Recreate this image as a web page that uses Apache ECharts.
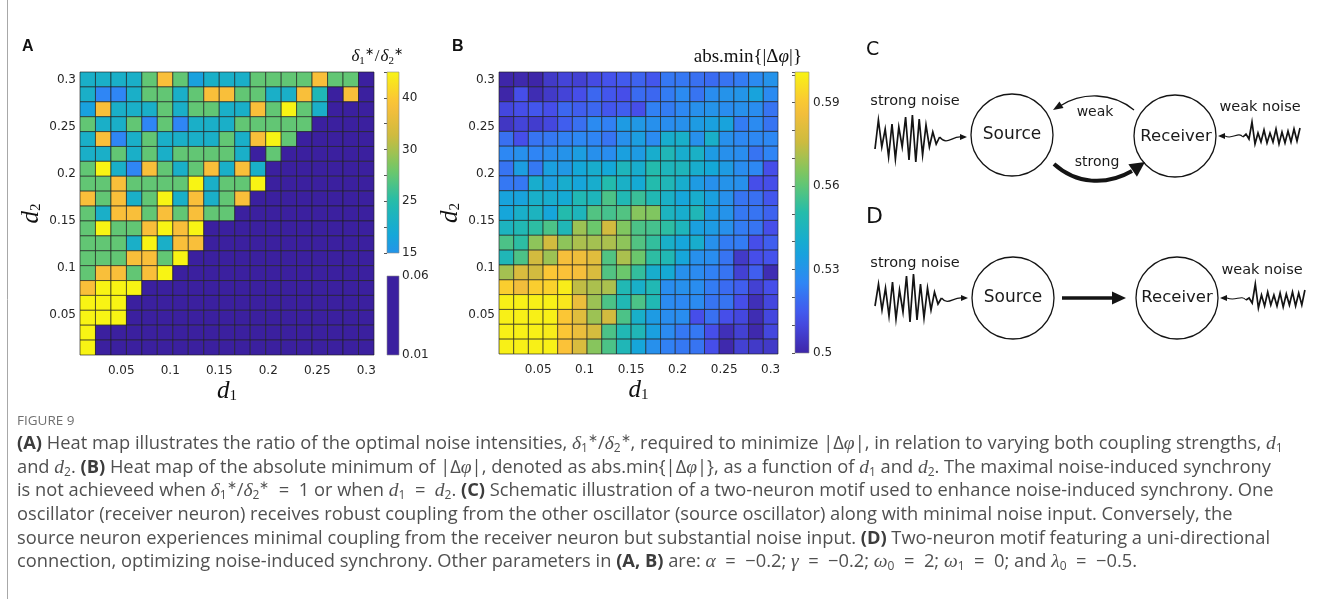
<!DOCTYPE html>
<html>
<head>
<meta charset="utf-8">
<script src="https://cdn.jsdelivr.net/npm/echarts@6/dist/echarts.min.js"></script>
<style>
  html, body { margin: 0; padding: 0; background: #fff; }
  #chart { width: 1328px; height: 599px; }
</style>
</head>
<body>
<div id="chart"></div>
<script>
// grid of coupling strengths (d1 and d2 use the same 19 values)
const dGrid = [0.0158, 0.0316, 0.0474, 0.0632, 0.0789, 0.0947, 0.1105, 0.1263, 0.1421, 0.1579,
  0.1737, 0.1895, 0.2053, 0.2211, 0.2368, 0.2526, 0.2684, 0.2842, 0.3];
const axisTicks = [0.05, 0.1, 0.15, 0.2, 0.25, 0.3];

// panel A: delta1*/delta2*, rows from d2 = 0.3 (top) down to the smallest d2
const ratioRows = [
  [21, 21, 21, 21, 27.5, 38.5, 27.5, 17.5, 21, 21, 21, 27.5, 27.5, 27.5, 27.5, 38.5, 27.5, 27.5, 0.03],
  [21, 12.5, 12.5, 21, 27.5, 27.5, 21, 27.5, 38.5, 38.5, 27.5, 27.5, 21, 21, 38.5, 23.5, 0.03, 38.5, 0.03],
  [17.5, 38.5, 21, 21, 21, 27.5, 21, 27.5, 27.5, 21, 21, 38.5, 27.5, 45, 27.5, 21, 0.03, 0.03, 0.03],
  [27.5, 21, 21, 27.5, 12.5, 27.5, 12.5, 21, 21, 21, 27.5, 27.5, 27.5, 27.5, 27.5, 0.03, 0.03, 0.03, 0.03],
  [21, 38.5, 12.5, 21, 27.5, 21, 21, 21, 21, 27.5, 21, 38.5, 45, 27.5, 0.03, 0.03, 0.03, 0.03, 0.03],
  [21, 21, 27.5, 21, 27.5, 21, 27.5, 27.5, 27.5, 27.5, 21, 0.03, 27.5, 0.03, 0.03, 0.03, 0.03, 0.03, 0.03],
  [27.5, 45, 21, 12.5, 38.5, 27.5, 21, 27.5, 38.5, 21, 38.5, 21, 0.03, 0.03, 0.03, 0.03, 0.03, 0.03, 0.03],
  [27.5, 27.5, 38.5, 27.5, 27.5, 27.5, 27.5, 45, 21, 27.5, 27.5, 45, 0.03, 0.03, 0.03, 0.03, 0.03, 0.03, 0.03],
  [38.5, 27.5, 38.5, 21, 27.5, 45, 21, 38.5, 21, 27.5, 38.5, 0.03, 0.03, 0.03, 0.03, 0.03, 0.03, 0.03, 0.03],
  [27.5, 21, 38.5, 38.5, 27.5, 38.5, 27.5, 38.5, 27.5, 27.5, 0.03, 0.03, 0.03, 0.03, 0.03, 0.03, 0.03, 0.03, 0.03],
  [27.5, 45, 27.5, 27.5, 38.5, 45, 38.5, 45, 0.03, 0.03, 0.03, 0.03, 0.03, 0.03, 0.03, 0.03, 0.03, 0.03, 0.03],
  [27.5, 27.5, 27.5, 21, 45, 21, 38.5, 38.5, 0.03, 0.03, 0.03, 0.03, 0.03, 0.03, 0.03, 0.03, 0.03, 0.03, 0.03],
  [27.5, 27.5, 27.5, 38.5, 38.5, 27.5, 45, 0.03, 0.03, 0.03, 0.03, 0.03, 0.03, 0.03, 0.03, 0.03, 0.03, 0.03, 0.03],
  [27.5, 38.5, 38.5, 27.5, 38.5, 45, 0.03, 0.03, 0.03, 0.03, 0.03, 0.03, 0.03, 0.03, 0.03, 0.03, 0.03, 0.03, 0.03],
  [38.5, 45, 45, 45, 0.03, 0.03, 0.03, 0.03, 0.03, 0.03, 0.03, 0.03, 0.03, 0.03, 0.03, 0.03, 0.03, 0.03, 0.03],
  [45, 45, 45, 0.03, 0.03, 0.03, 0.03, 0.03, 0.03, 0.03, 0.03, 0.03, 0.03, 0.03, 0.03, 0.03, 0.03, 0.03, 0.03],
  [45, 45, 45, 0.03, 0.03, 0.03, 0.03, 0.03, 0.03, 0.03, 0.03, 0.03, 0.03, 0.03, 0.03, 0.03, 0.03, 0.03, 0.03],
  [45, 0.03, 0.03, 0.03, 0.03, 0.03, 0.03, 0.03, 0.03, 0.03, 0.03, 0.03, 0.03, 0.03, 0.03, 0.03, 0.03, 0.03, 0.03],
  [45, 0.03, 0.03, 0.03, 0.03, 0.03, 0.03, 0.03, 0.03, 0.03, 0.03, 0.03, 0.03, 0.03, 0.03, 0.03, 0.03, 0.03, 0.03]
];
// colorbar of A: tick labels sit at evenly spaced positions
const ratioTickValues = [15, 25, 30, 40];
const ratioTickPos = [0, 2, 4, 6];
const lowTicks = [0.01, 0.06];

// panel B: abs.min{|dphi|}, rows from d2 = 0.3 (top) down
const phaseRows = [
  [0.500, 0.501, 0.500, 0.506, 0.509, 0.508, 0.511, 0.513, 0.515, 0.517, 0.514, 0.522, 0.522, 0.520, 0.519, 0.521, 0.523, 0.527, 0.530],
  [0.500, 0.512, 0.502, 0.506, 0.509, 0.512, 0.518, 0.514, 0.512, 0.519, 0.518, 0.523, 0.527, 0.521, 0.528, 0.530, 0.531, 0.536, 0.527],
  [0.510, 0.512, 0.514, 0.512, 0.518, 0.516, 0.518, 0.514, 0.516, 0.512, 0.524, 0.523, 0.526, 0.529, 0.530, 0.528, 0.529, 0.528, 0.521],
  [0.505, 0.509, 0.507, 0.510, 0.516, 0.520, 0.527, 0.524, 0.533, 0.532, 0.529, 0.528, 0.529, 0.533, 0.535, 0.536, 0.523, 0.527, 0.521],
  [0.520, 0.512, 0.521, 0.522, 0.524, 0.526, 0.525, 0.521, 0.529, 0.534, 0.527, 0.541, 0.542, 0.529, 0.542, 0.529, 0.526, 0.526, 0.526],
  [0.526, 0.529, 0.525, 0.528, 0.530, 0.534, 0.529, 0.528, 0.535, 0.533, 0.541, 0.547, 0.541, 0.543, 0.533, 0.529, 0.528, 0.521, 0.525],
  [0.521, 0.534, 0.522, 0.535, 0.532, 0.538, 0.541, 0.538, 0.546, 0.541, 0.550, 0.546, 0.546, 0.541, 0.538, 0.533, 0.528, 0.526, 0.512],
  [0.522, 0.522, 0.541, 0.534, 0.541, 0.537, 0.541, 0.550, 0.543, 0.539, 0.550, 0.547, 0.541, 0.533, 0.529, 0.530, 0.529, 0.512, 0.512],
  [0.536, 0.536, 0.542, 0.541, 0.539, 0.548, 0.546, 0.557, 0.548, 0.554, 0.548, 0.543, 0.537, 0.541, 0.535, 0.529, 0.521, 0.520, 0.514],
  [0.537, 0.542, 0.545, 0.537, 0.550, 0.546, 0.558, 0.556, 0.558, 0.566, 0.565, 0.545, 0.541, 0.547, 0.533, 0.530, 0.522, 0.521, 0.517],
  [0.545, 0.548, 0.552, 0.557, 0.547, 0.569, 0.562, 0.577, 0.565, 0.557, 0.556, 0.552, 0.546, 0.535, 0.533, 0.529, 0.523, 0.521, 0.512],
  [0.557, 0.552, 0.567, 0.577, 0.567, 0.571, 0.570, 0.571, 0.567, 0.558, 0.553, 0.542, 0.537, 0.541, 0.529, 0.523, 0.523, 0.512, 0.516],
  [0.547, 0.557, 0.577, 0.569, 0.587, 0.585, 0.581, 0.558, 0.571, 0.562, 0.552, 0.548, 0.537, 0.529, 0.528, 0.521, 0.506, 0.512, 0.513],
  [0.570, 0.579, 0.577, 0.590, 0.589, 0.587, 0.579, 0.558, 0.562, 0.553, 0.541, 0.539, 0.529, 0.527, 0.524, 0.521, 0.508, 0.516, 0.502],
  [0.592, 0.586, 0.592, 0.593, 0.599, 0.574, 0.571, 0.571, 0.548, 0.542, 0.548, 0.528, 0.529, 0.528, 0.523, 0.519, 0.516, 0.508, 0.512],
  [0.600, 0.600, 0.600, 0.600, 0.598, 0.584, 0.569, 0.557, 0.548, 0.557, 0.548, 0.527, 0.526, 0.527, 0.521, 0.521, 0.512, 0.503, 0.510],
  [0.600, 0.600, 0.600, 0.600, 0.590, 0.581, 0.569, 0.577, 0.557, 0.542, 0.533, 0.528, 0.528, 0.512, 0.520, 0.512, 0.510, 0.502, 0.510],
  [0.600, 0.600, 0.600, 0.599, 0.590, 0.584, 0.578, 0.557, 0.548, 0.547, 0.535, 0.527, 0.522, 0.522, 0.512, 0.503, 0.508, 0.501, 0.510],
  [0.600, 0.600, 0.600, 0.600, 0.589, 0.579, 0.566, 0.557, 0.547, 0.537, 0.529, 0.524, 0.522, 0.521, 0.512, 0.501, 0.508, 0.506, 0.506]
];
const phaseMin = 0.5;
const phaseMax = 0.601;
const phaseTicks = [0.5, 0.53, 0.56, 0.59];

// schematic noise traces (pixel offsets)
const strongNoiseC = [12, -17, 10, -8, 20, -13, 22, -10, 10, -20, 23, -22, 25, -18, 18, -12, 10, -5, 7, 0];
const strongNoiseD = [8, -14, 12, -10, 18, -16, 21, -8, 14, -22, 24, -24, 22, -14, 20, -10, 12, -6, 6, 0];
const weakNoiseC = [0, -3, 2, -15, 7, -4, 5, -7, 6, -4, 5, -8, 7, -5, 6, -6, 5, -8, 4, -9];
const weakNoiseD = [0, -2, 3, -16, 8, -5, 6, -8, 5, -5, 6, -7, 7, -6, 5, -8, 6, -7, 5, -10];

const parula = ['#3e26a8', '#4650ec', '#2f86f5', '#14a8d8', '#24bcab', '#72c866', '#cdbb3f', '#fbbf3a', '#f8f414'];
const lowColor = '#3b209f';
const tickFont = 'DejaVu Sans';
const capFont = 'Open Sans';
const capSize = 18.3;
const capColor = '#505050';

function ratioToPos(v) {
  const t = ratioTickValues, p = ratioTickPos;
  let i = 0;
  while (i < t.length - 2 && v > t[i + 1]) i++;
  return p[i] + (v - t[i]) * (p[i + 1] - p[i]) / (t[i + 1] - t[i]);
}

const ratioCells = [];
const lowCells = [];
ratioRows.forEach((row, r) => {
  row.forEach((v, c) => {
    const x = dGrid[c], y = dGrid[dGrid.length - 1 - r];
    if (v >= 1) ratioCells.push([x, y, v, ratioToPos(v)]);
    else lowCells.push([x, y, v]);
  });
});
const phaseCells = [];
phaseRows.forEach((row, r) => {
  row.forEach((v, c) => phaseCells.push([dGrid[c], dGrid[dGrid.length - 1 - r], v]));
});

const cellStep = dGrid[1] - dGrid[0];
const dMin = dGrid[0] - cellStep / 2;
const dMax = dGrid[dGrid.length - 1] + cellStep / 2;

function cellItem(params, api) {
  const c = api.coord([api.value(0), api.value(1)]);
  const s = api.size([cellStep, cellStep]);
  return {
    type: 'rect',
    shape: { x: c[0] - s[0] / 2, y: c[1] - s[1] / 2, width: s[0], height: s[1] },
    style: { fill: api.visual('color'), stroke: 'rgba(30,30,30,0.8)', lineWidth: 0.8 }
  };
}

function gradientStops(p0, p1) {
  const out = [];
  for (let i = 0; i <= 20; i++) {
    out.push({ offset: i / 20, color: echarts.color.lerp(p0 + (p1 - p0) * i / 20, parula) });
  }
  return out;
}

function barItem(stops) {
  return function (params, api) {
    const a = api.coord([api.value(0), api.value(1)]);
    const b = api.coord([api.value(2), api.value(3)]);
    return {
      type: 'rect',
      shape: { x: a[0], y: b[1], width: b[0] - a[0], height: a[1] - b[1] },
      style: { fill: new echarts.graphic.LinearGradient(0, 1, 0, 0, stops), stroke: '#8a8a8a', lineWidth: 0.6 }
    };
  };
}

const tickLabel = { fontFamily: tickFont, fontSize: 12, color: '#262626' };
const nameRich = {
  d: { fontFamily: 'Liberation Serif', fontStyle: 'italic', fontSize: 25, lineHeight: 26, color: '#111' },
  s: { fontFamily: 'Liberation Serif', fontSize: 15, lineHeight: 13, verticalAlign: 'bottom', color: '#111' }
};

function mainX(grid, name) {
  return {
    type: 'value', gridIndex: grid, min: dMin, max: dMax,
    splitLine: { show: false }, axisLine: { show: false }, axisTick: { show: false },
    axisLabel: Object.assign({ customValues: axisTicks, margin: 10, formatter: v => String(+v.toFixed(2)) }, tickLabel),
    name: name, nameLocation: 'middle', nameGap: 23, nameTextStyle: { rich: nameRich }
  };
}
function mainY(grid, name) {
  return {
    type: 'value', gridIndex: grid, min: dMin, max: dMax,
    splitLine: { show: false }, axisLine: { show: false }, axisTick: { show: false },
    axisLabel: Object.assign({ customValues: axisTicks, margin: 4, formatter: v => String(+v.toFixed(2)) }, tickLabel),
    name: name, nameLocation: 'middle', nameGap: 36, nameTextStyle: { rich: nameRich }
  };
}
function barX(grid) {
  return { type: 'value', gridIndex: grid, min: 0, max: 1, show: false };
}

const capRich = {
  b: { fontFamily: capFont, fontWeight: 'bold', fontSize: capSize, lineHeight: 22, fill: '#3c3c3c' },
  m: { fontFamily: 'Liberation Serif', fontStyle: 'italic', fontSize: 19.5, lineHeight: 22, fill: capColor },
  s: { fontFamily: capFont, fontSize: 12, lineHeight: 11, verticalAlign: 'bottom', fill: capColor },
  p: { fontFamily: capFont, fontSize: 12, lineHeight: 11, verticalAlign: 'top', fill: capColor }
};
const capLines = [
  '{b|(A)} Heat map illustrates the ratio of the optimal noise intensities, {m|δ}{s|1}{p|∗}/{m|δ}{s|2}{p|∗}, required to minimize |Δ{m|φ}|, in relation to varying both coupling strengths, {m|d}{s|1}',
  'and {m|d}{s|2}. {b|(B)} Heat map of the absolute minimum of |Δ{m|φ}|, denoted as abs.min{|Δ{m|φ}|}, as a function of {m|d}{s|1} and {m|d}{s|2}. The maximal noise-induced synchrony',
  'is not achieveed when {m|δ}{s|1}{p|∗}/{m|δ}{s|2}{p|∗}  =  1 or when {m|d}{s|1}  =  {m|d}{s|2}. {b|(C)} Schematic illustration of a two-neuron motif used to enhance noise-induced synchrony. One',
  'oscillator (receiver neuron) receives robust coupling from the other oscillator (source oscillator) along with minimal noise input. Conversely, the',
  'source neuron experiences minimal coupling from the receiver neuron but substantial noise input. {b|(D)} Two-neuron motif featuring a uni-directional',
  'connection, optimizing noise-induced synchrony. Other parameters in {b|(A, B)} are: {m|α}  =  −0.2; {m|γ}  =  −0.2; {m|ω}{s|0}  =  2; {m|ω}{s|1}  =  0; and {m|λ}{s|0}  =  −0.5.'
];
const capY = [444, 468, 491, 515, 539, 562];

// ---- schematic helpers ----
const ink = '#141414';
function wave(amps, x0, y0, dx) {
  return { type: 'polyline', shape: { points: amps.map((a, i) => [x0 + i * dx, y0 + a]) },
    style: { stroke: ink, lineWidth: 1.7, fill: null } };
}
function head(x, y, ang, len, half) {
  const ca = Math.cos(ang), sa = Math.sin(ang);
  const bx = x - ca * len, by = y - sa * len;
  return { type: 'polygon', shape: { points: [[x, y], [bx - sa * half, by + ca * half], [bx + sa * half, by - ca * half]] },
    style: { fill: ink } };
}
function circle(cx, cy) {
  return { type: 'circle', shape: { cx: cx, cy: cy, r: 41 }, style: { stroke: ink, lineWidth: 1.3, fill: null } };
}
function label(x, y, text, size, extra) {
  return { type: 'text', x: x, y: y,
    style: Object.assign({ text: text, fontFamily: 'DejaVu Sans', fontSize: size, fill: '#1a1a1a', align: 'center', verticalAlign: 'middle' }, extra || {}) };
}
function curve(x1, y1, c1x, c1y, c2x, c2y, x2, y2, w) {
  return { type: 'bezierCurve', shape: { x1: x1, y1: y1, cpx1: c1x, cpy1: c1y, cpx2: c2x, cpy2: c2y, x2: x2, y2: y2 },
    style: { stroke: ink, lineWidth: w, fill: null } };
}

const graphics = [
  // frame
  { type: 'line', shape: { x1: 7.5, y1: 0, x2: 7.5, y2: 599 }, style: { stroke: '#a8a8a8', lineWidth: 1 } },
  // panel letters and colorbar titles
  { type: 'text', x: 22, y: 47, style: { text: 'A', fontFamily: 'Liberation Sans', fontWeight: 'bold', fontSize: 16, fill: '#111', verticalAlign: 'middle' } },
  { type: 'text', x: 452, y: 47, style: { text: 'B', fontFamily: 'Liberation Sans', fontWeight: 'bold', fontSize: 16, fill: '#111', verticalAlign: 'middle' } },
  { type: 'text', x: 403, y: 57, style: {
      text: '{m|δ}{s|1}{p|∗}{n|/}{m|δ}{s|2}{p|∗}', align: 'right', verticalAlign: 'middle',
      rich: {
        m: { fontFamily: 'Liberation Serif', fontStyle: 'italic', fontSize: 17, lineHeight: 20, fill: '#111' },
        n: { fontFamily: 'Liberation Serif', fontSize: 17, lineHeight: 20, fill: '#111', padding: [0, 1, 0, 1] },
        s: { fontFamily: 'Liberation Serif', fontSize: 11, lineHeight: 10, verticalAlign: 'bottom', fill: '#111' },
        p: { fontFamily: 'Liberation Serif', fontSize: 11, lineHeight: 10, verticalAlign: 'top', fill: '#111' }
      } } },
  { type: 'text', x: 802, y: 57, style: {
      text: 'abs.min{|Δ{m|φ}|}', align: 'right', verticalAlign: 'middle',
      fontFamily: 'Liberation Serif', fontSize: 19, fill: '#111',
      rich: { m: { fontFamily: 'Liberation Serif', fontStyle: 'italic', fontSize: 19, fill: '#111' } } } },
  { type: 'text', x: 866, y: 50, style: { text: 'C', fontFamily: 'DejaVu Sans', fontSize: 19, fill: '#111', verticalAlign: 'middle' } },
  { type: 'text', x: 866, y: 217, style: { text: 'D', fontFamily: 'DejaVu Sans', fontSize: 22, fill: '#111', verticalAlign: 'middle' } },

  // panel C
  label(915, 101, 'strong noise', 14.5),
  wave(strongNoiseC, 875, 137, 3.4),
  curve(939.6, 137, 947, 146, 952, 136, 961, 137, 1.3),
  head(967, 137, 0, 7, 3),
  circle(1012, 135),
  label(1012, 135, 'Source', 17),
  circle(1175, 136),
  label(1176, 137, 'Receiver', 16.5),
  label(1260, 107, 'weak noise', 14.5),
  wave(weakNoiseC, 1243, 137, 3),
  curve(1243, 137, 1238, 131, 1233, 140, 1225, 136, 1.1),
  head(1218, 136, Math.PI, 7, 3),
  curve(1134, 110, 1112, 92, 1082, 92, 1060, 106, 1.3),
  head(1053, 110, Math.atan2(5, -8), 10, 3.8),
  label(1095, 112, 'weak', 14),
  curve(1054, 164, 1076, 184, 1106, 186, 1132, 171, 4),
  head(1145, 162, Math.atan2(-9, 13), 15, 7.5),
  label(1097, 162, 'strong', 14),

  // panel D
  label(915, 263, 'strong noise', 14.5),
  wave(strongNoiseD, 875, 298, 3.5),
  curve(941.5, 298, 948, 306, 953, 297, 962, 298, 1.3),
  head(968, 298, 0, 7, 3),
  circle(1013, 298),
  label(1013, 298, 'Source', 17),
  { type: 'line', shape: { x1: 1062, y1: 298, x2: 1114, y2: 298 }, style: { stroke: ink, lineWidth: 3.6 } },
  head(1126, 298, 0, 14, 6.5),
  circle(1177, 298),
  label(1177, 298, 'Receiver', 16.5),
  label(1262, 270, 'weak noise', 14.5),
  wave(weakNoiseD, 1246, 300, 3.1),
  curve(1246, 300, 1241, 294, 1236, 302, 1227, 298, 1.1),
  head(1220, 298, Math.PI, 7, 3),

  // caption
  { type: 'text', x: 17, y: 421, style: { text: 'FIGURE 9', fontFamily: capFont, fontSize: 13.5, fill: '#707070', verticalAlign: 'middle' } }
];
capLines.forEach((t, i) => {
  graphics.push({ type: 'text', x: 17, y: capY[i], style: {
    text: t, fontFamily: capFont, fontSize: capSize, lineHeight: 22, fill: capColor, verticalAlign: 'middle', rich: capRich } });
});

const chart = echarts.init(document.getElementById('chart'), null, { renderer: 'canvas' });
chart.setOption({
  backgroundColor: '#fff',
  animation: false,
  grid: [
    { left: 80, top: 72, width: 294, height: 283 },
    { left: 387, top: 72, width: 12, height: 181 },
    { left: 387, top: 276, width: 12, height: 79 },
    { left: 499, top: 72, width: 279, height: 282 },
    { left: 795, top: 72, width: 14, height: 281 }
  ],
  xAxis: [mainX(0, '{d|d}{s|1}'), barX(1), barX(2), mainX(3, '{d|d}{s|1}'), barX(4)],
  yAxis: [
    mainY(0, '{d|d}{s|2}'),
    { type: 'value', gridIndex: 1, min: 0, max: 7, interval: 1, position: 'right',
      splitLine: { show: false }, axisLine: { show: false },
      axisTick: { show: true, inside: true, length: 3, lineStyle: { color: '#555' } },
      axisLabel: Object.assign({ margin: 3, formatter: v => {
        const k = ratioTickPos.indexOf(v);
        return k >= 0 ? String(ratioTickValues[k]) : '';
      } }, tickLabel) },
    { type: 'value', gridIndex: 2, min: 0.01, max: 0.06, position: 'right',
      splitLine: { show: false }, axisLine: { show: false },
      axisTick: { show: false },
      axisLabel: Object.assign({ margin: 3, customValues: lowTicks, formatter: v => String(+v.toFixed(2)) }, tickLabel) },
    mainY(3, '{d|d}{s|2}'),
    { type: 'value', gridIndex: 4, min: phaseMin, max: phaseMax, interval: 0.01, position: 'right',
      splitLine: { show: false }, axisLine: { show: false },
      axisTick: { show: true, inside: true, length: 3, lineStyle: { color: '#555' } },
      axisLabel: Object.assign({ margin: 4, formatter: v => {
        const t = phaseTicks.find(x => Math.abs(x - v) < 1e-6);
        return t === undefined ? '' : String(t);
      } }, tickLabel) }
  ],
  visualMap: [
    { type: 'continuous', show: false, seriesIndex: 0, dimension: 3, min: -3, max: 7, inRange: { color: parula } },
    { type: 'continuous', show: false, seriesIndex: 1, dimension: 2, min: 0.01, max: 0.06, inRange: { color: [lowColor, lowColor] } },
    { type: 'continuous', show: false, seriesIndex: 2, dimension: 2, min: phaseMin, max: phaseMax, inRange: { color: parula } }
  ],
  series: [
    { type: 'custom', name: 'ratio', xAxisIndex: 0, yAxisIndex: 0, renderItem: cellItem, data: ratioCells, encode: { x: 0, y: 1 } },
    { type: 'custom', name: 'low', xAxisIndex: 0, yAxisIndex: 0, renderItem: cellItem, data: lowCells, encode: { x: 0, y: 1 } },
    { type: 'custom', name: 'phase', xAxisIndex: 3, yAxisIndex: 3, renderItem: cellItem, data: phaseCells, encode: { x: 0, y: 1 } },
    { type: 'custom', xAxisIndex: 1, yAxisIndex: 1, renderItem: barItem(gradientStops(0.3, 1)), data: [[0, 0, 1, 7]], encode: { x: [0, 2], y: [1, 3] }, z: 1 },
    { type: 'custom', xAxisIndex: 2, yAxisIndex: 2, renderItem: barItem([{ offset: 0, color: lowColor }, { offset: 1, color: lowColor }]), data: [[0, 0.01, 1, 0.06]], encode: { x: [0, 2], y: [1, 3] }, z: 1 },
    { type: 'custom', xAxisIndex: 4, yAxisIndex: 4, renderItem: barItem(gradientStops(0, 1)), data: [[0, phaseMin, 1, phaseMax]], encode: { x: [0, 2], y: [1, 3] }, z: 1 }
  ],
  graphic: { elements: graphics.map(g => Object.assign({ silent: true }, g)) }
});
</script>
</body>
</html>
